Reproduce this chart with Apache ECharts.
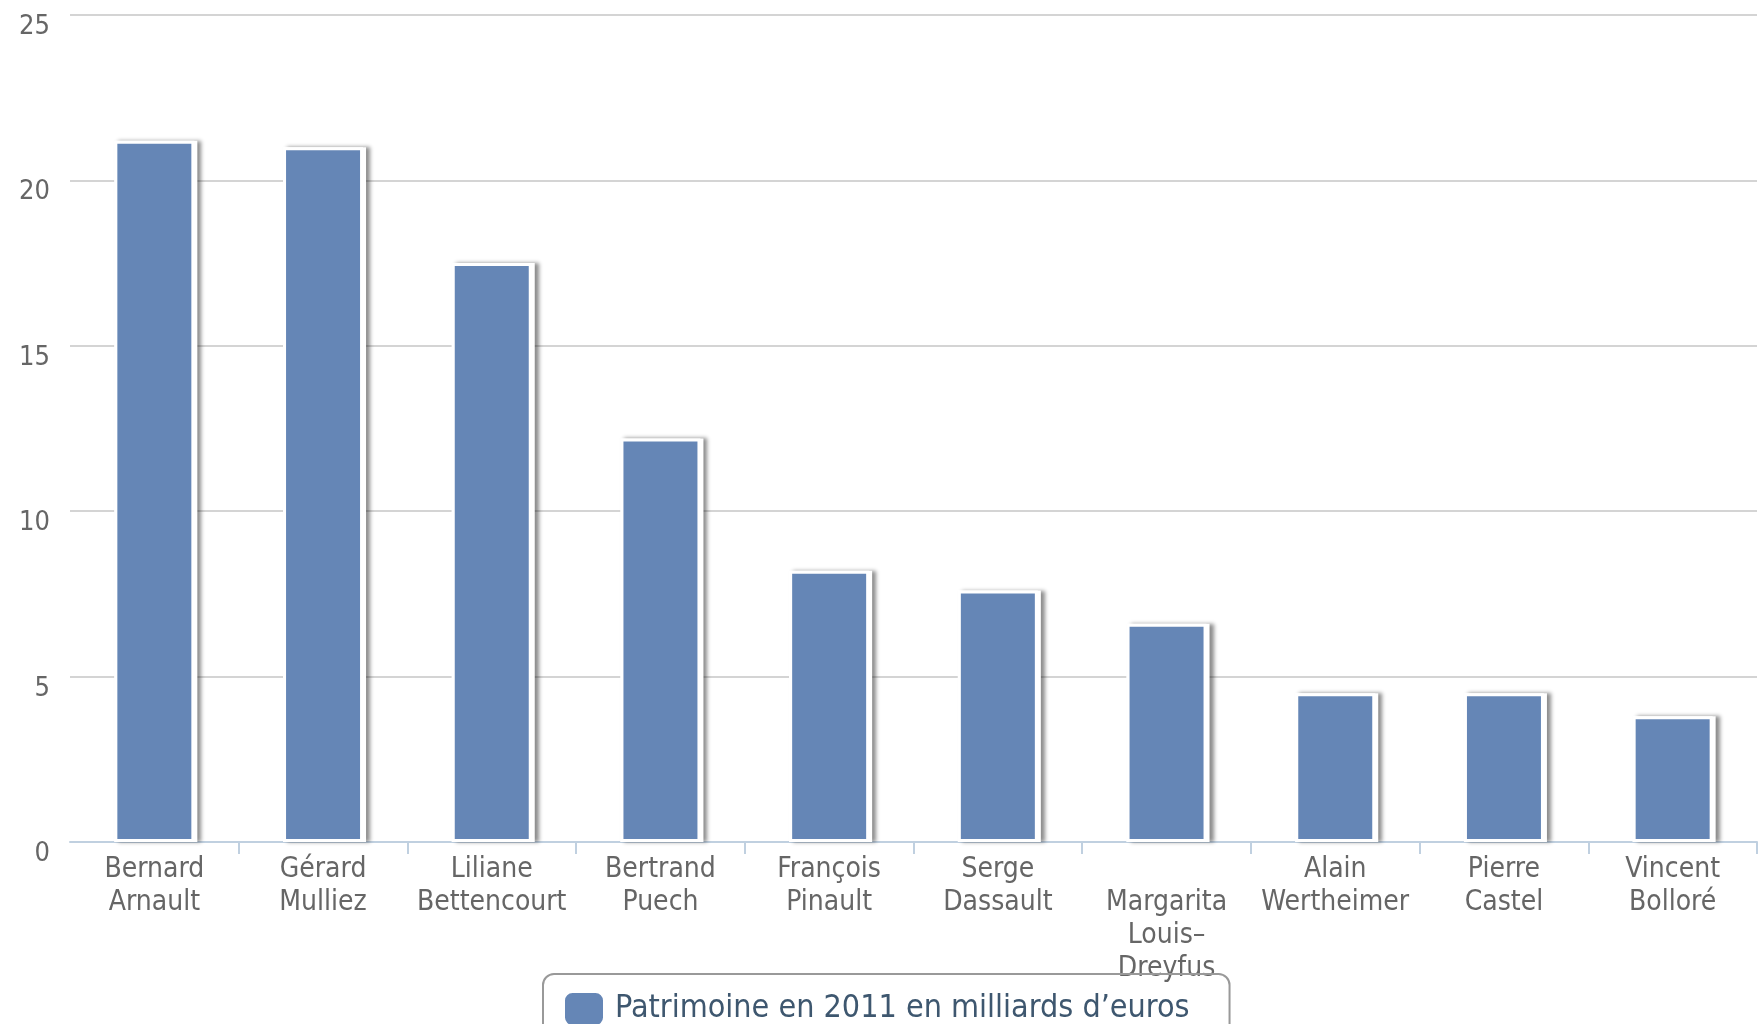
<!DOCTYPE html>
<html>
<head>
<meta charset="utf-8">
<title>Patrimoine en 2011</title>
<script src="https://cdn.jsdelivr.net/npm/echarts@6/dist/echarts.min.js"></script>
<style>
  html, body { margin: 0; padding: 0; background: #fff; }
  #chart { width: 1760px; height: 1024px; }
</style>
</head>
<body>
<div id="chart"></div>
<script>
// Fortunes françaises 2011 (milliards d'euros)
const categories = [
  'Bernard\nArnault',
  'Gérard\nMulliez',
  'Liliane\nBettencourt',
  'Bertrand\nPuech',
  'François\nPinault',
  'Serge\nDassault',
  '\nMargarita\nLouis–\nDreyfus',
  'Alain\nWertheimer',
  'Pierre\nCastel',
  'Vincent\nBolloré'
];
const patrimoine = [21.2, 21.0, 17.5, 12.2, 8.2, 7.6, 6.6, 4.5, 4.5, 3.8];
const seriesName = 'Patrimoine en 2011 en milliards d’euros';
const yTicks = { min: 0, max: 25, interval: 5 };

const FONT = '"DejaVu Sans Condensed", "DejaVu Sans", sans-serif';
const BAR_WIDTH = 80;
const chart = echarts.init(document.getElementById('chart'), null, { renderer: 'canvas' });

chart.setOption({
  animation: false,
  backgroundColor: '#ffffff',
  textStyle: { fontFamily: FONT },
  grid: { left: 70, right: 3, top: 15, bottom: 182, containLabel: false },
  legend: {
    left: 543,
    top: 974,
    padding: [17, 40, 20, 20],
    borderColor: '#999999',
    borderWidth: 2,
    borderRadius: 11,
    icon: 'roundRect',
    itemWidth: 40,
    itemHeight: 34,
    selectedMode: false,
    textStyle: { fontFamily: FONT, fontSize: 32, color: '#3e576f', padding: [0, 0, 0, 6] },
    data: [seriesName]
  },
  xAxis: {
    type: 'category',
    data: categories,
    boundaryGap: true,
    axisLine: { show: true, lineStyle: { color: '#c0d0e0', width: 2 } },
    axisTick: {
      show: true,
      length: 12,
      interval: (index) => index > 0,
      lineStyle: { color: '#c0d0e0', width: 2 }
    },
    axisLabel: {
      interval: 0,
      margin: 11,
      color: '#666666',
      fontFamily: FONT,
      fontSize: 28,
      lineHeight: 33,
      align: 'center',
      verticalAlign: 'top'
    },
    splitLine: { show: false }
  },
  yAxis: {
    type: 'value',
    min: yTicks.min,
    max: yTicks.max,
    interval: yTicks.interval,
    axisLine: { show: false },
    axisTick: { show: false },
    axisLabel: {
      margin: 20,
      color: '#666666',
      fontFamily: FONT,
      fontSize: 27,
      lineHeight: 24,
      verticalAlign: 'top'
    },
    splitLine: { show: true, lineStyle: { color: '#d4d4d4', width: 2 } }
  },
  series: [
    {
      // drop shadow drawn underneath the bars
      name: 'ombre',
      type: 'bar',
      data: patrimoine,
      barWidth: BAR_WIDTH + 3,
      barGap: '-100%',
      silent: true,
      itemStyle: {
        color: '#ffffff',
        shadowColor: 'rgba(0, 0, 0, 0.45)',
        shadowBlur: 4,
        shadowOffsetX: 4,
        shadowOffsetY: 0
      },
      emphasis: { disabled: true }
    },
    {
      name: seriesName,
      type: 'bar',
      data: patrimoine,
      barWidth: BAR_WIDTH,
      barGap: '-100%',
      itemStyle: {
        color: '#6586b6',
        borderColor: '#ffffff',
        borderWidth: 3
      },
      emphasis: { disabled: true }
    }
  ]
});
</script>
</body>
</html>
